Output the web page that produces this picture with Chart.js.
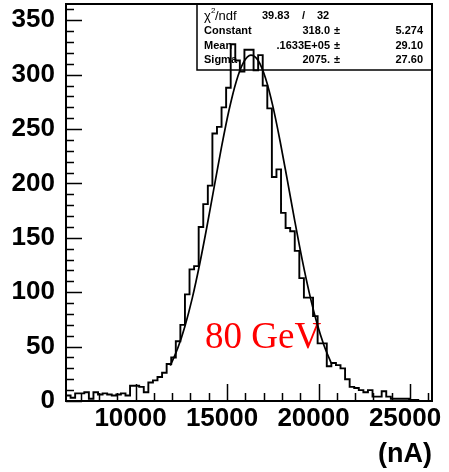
<!DOCTYPE html>
<html>
<head>
<meta charset="utf-8">
<script src="https://cdn.jsdelivr.net/npm/chart.js@4.4.0/dist/chart.umd.min.js"></script>
<style>
  html, body { margin: 0; padding: 0; background: #fff; }
  #wrap { width: 449px; height: 472px; }
</style>
</head>
<body>
<div id="wrap"><canvas id="c" width="449" height="472"></canvas></div>
<script>
// histogram bins: 80 bins of 250 nA, starting at 6200
const binStart = 6200;
const binWidth = 250;
const counts = [
  4, 5, 3, 7, 7, 8, 2, 8, 6, 7,
  6, 5, 6, 7, 5, 14, 14, 13, 8, 17,
  19, 22, 26, 34, 40, 55, 70, 98, 121, 124,
  160, 181, 198, 246, 252, 270, 288, 328, 313, 303,
  323, 323, 304, 318, 290, 269, 206, 213, 173, 159,
  156, 138, 113, 95, 95, 78, 53, 53, 32, 35,
  33, 30, 20, 13, 12, 10, 8, 10, 4, 4,
  9, 4, 2, 2, 2, 2, 1, 1, 0, 0
];

// gaussian fit curve
const fitX = [11900, 12300, 12700, 13100, 13500, 13900, 14300, 14700, 15100, 15500, 15900, 16300,
              16700, 17100, 17500, 17900, 18300, 18700, 19100, 19500, 19900, 20300, 20700];
const fitY = [32.6, 48.2, 68.8, 94.6, 125.5, 160.2, 197.1, 233.6, 266.8, 293.6, 311.3, 318.0,
              313.0, 296.9, 271.3, 238.8, 202.6, 165.6, 130.4, 99.0, 72.4, 51.0, 34.6];

const xTickValues = [10000, 15000, 20000, 25000];
const yTickValues = [0, 50, 100, 150, 200, 250, 300, 350];

// stats box rows
const statLabels = ["Constant", "Mean", "Sigma"];
const statValues = ["318.0", ".1633E+05", "2075."];
const statErrors = ["5.274", "29.10", "27.60"];
const chi2 = "39.83";
const ndf = "32";

const SANS = "'Liberation Sans', Arial, Helvetica, sans-serif";

const histPoints = counts.map((c, i) => ({ x: binStart + i * binWidth, y: c }));
histPoints.push({ x: binStart + counts.length * binWidth, y: counts[counts.length - 1] });
const fitPoints = fitX.map((x, i) => ({ x: x, y: fitY[i] }));

// stats box + energy label, drawn under the histogram
const statsBox = {
  id: 'statsBox',
  beforeDatasetsDraw(chart) {
    const ctx = chart.ctx;
    const a = chart.chartArea;
    ctx.save();
    const bx = 197, by = a.top, bw = a.right - 197, bh = 66;
    ctx.fillStyle = '#fff';
    ctx.fillRect(bx, by, bw, bh);
    ctx.strokeStyle = '#000';
    ctx.lineWidth = 1.5;
    ctx.strokeRect(bx, by, bw, bh);

    ctx.fillStyle = '#000';
    ctx.textBaseline = 'middle';
    // chi2 / ndf row
    ctx.textAlign = 'left';
    ctx.font = '13px ' + SANS;
    ctx.fillText('\u03C7', 204, 16);
    ctx.font = '8px ' + SANS;
    ctx.fillText('2', 211, 11);
    ctx.font = '13px ' + SANS;
    ctx.fillText('/ndf', 215, 16);
    ctx.font = 'bold 11px ' + SANS;
    ctx.fillText(chi2, 262, 16);
    ctx.fillText('/', 302, 16);
    ctx.fillText(ndf, 317, 16);

    const rows = [31, 45.5, 60];
    statLabels.forEach((lab, i) => {
      ctx.textAlign = 'left';
      ctx.fillText(lab, 204, rows[i]);
      ctx.textAlign = 'right';
      ctx.fillText(statValues[i], 330, rows[i]);
      ctx.textAlign = 'left';
      ctx.fillText('\u00B1', 334, rows[i]);
      ctx.textAlign = 'right';
      ctx.fillText(statErrors[i], 423, rows[i]);
    });

    // red energy label
    ctx.textAlign = 'left';
    ctx.textBaseline = 'alphabetic';
    ctx.fillStyle = '#ff0000';
    ctx.font = "37px 'Liberation Serif', 'Times New Roman', serif";
    ctx.fillText('80 GeV', 205, 348);
    ctx.restore();
  }
};

// frame and inside tick marks, ROOT style
const frameTicks = {
  id: 'frameTicks',
  afterDatasetsDraw(chart) {
    const ctx = chart.ctx;
    const a = chart.chartArea;
    const xs = chart.scales.x, ys = chart.scales.y;
    ctx.save();
    ctx.strokeStyle = '#000';
    ctx.lineWidth = 1.5;
    ctx.beginPath();
    for (let v = 0; v <= ys.max; v += 10) {
      const py = Math.round(ys.getPixelForValue(v)) + 0.5;
      const len = v % 50 === 0 ? 16 : 8;
      ctx.moveTo(a.left, py);
      ctx.lineTo(a.left + len, py);
    }
    for (let v = 7000; v <= xs.max; v += 1000) {
      const px = Math.round(xs.getPixelForValue(v)) + 0.5;
      const len = v % 5000 === 0 ? 17 : 8;
      ctx.moveTo(px, a.bottom);
      ctx.lineTo(px, a.bottom - len);
    }
    ctx.stroke();
    ctx.lineWidth = 2;
    ctx.strokeRect(a.left, a.top, a.right - a.left, a.bottom - a.top);
    ctx.restore();
  }
};

new Chart(document.getElementById('c'), {
  type: 'line',
  data: {
    datasets: [
      {
        data: histPoints,
        stepped: 'after',
        borderColor: '#000',
        borderWidth: 1.9,
        pointRadius: 0,
        fill: false
      },
      {
        data: fitPoints,
        borderColor: '#000',
        borderWidth: 1.7,
        pointRadius: 0,
        cubicInterpolationMode: 'monotone',
        fill: false
      }
    ]
  },
  options: {
    responsive: false,
    animation: false,
    events: [],
    layout: { padding: { top: 4, right: 17, left: 0, bottom: 0 } },
    plugins: { legend: { display: false }, tooltip: { enabled: false } },
    scales: {
      x: {
        type: 'linear',
        min: 6200,
        max: 26200,
        grid: { display: false, drawTicks: false },
        border: { display: false },
        afterBuildTicks(scale) { scale.ticks = xTickValues.map(v => ({ value: v })); },
        afterFit(scale) {
          scale.height = 71;
          scale.paddingLeft = 0;
          scale.paddingRight = 0;
        },
        ticks: {
          autoSkip: false,
          maxRotation: 0,
          padding: 2,
          labelOffset: -5,
          color: '#000',
          font: { family: SANS, size: 26, weight: 'bold' },
          callback: v => String(v)
        },
        title: {
          display: true,
          text: '(nA)',
          align: 'end',
          color: '#000',
          padding: { top: 0, bottom: 1 },
          font: { family: SANS, size: 27, weight: 'bold' }
        }
      },
      y: {
        min: 0,
        max: 365,
        grid: { display: false, drawTicks: false },
        border: { display: false },
        afterBuildTicks(scale) { scale.ticks = yTickValues.map(v => ({ value: v })); },
        afterFit(scale) {
          scale.width = 66;
          scale.paddingTop = 0;
          scale.paddingBottom = 0;
        },
        ticks: {
          padding: 11,
          color: '#000',
          font: { family: SANS, size: 26, weight: 'bold' },
          callback: v => String(v)
        }
      }
    }
  },
  plugins: [statsBox, frameTicks]
});
</script>
</body>
</html>
